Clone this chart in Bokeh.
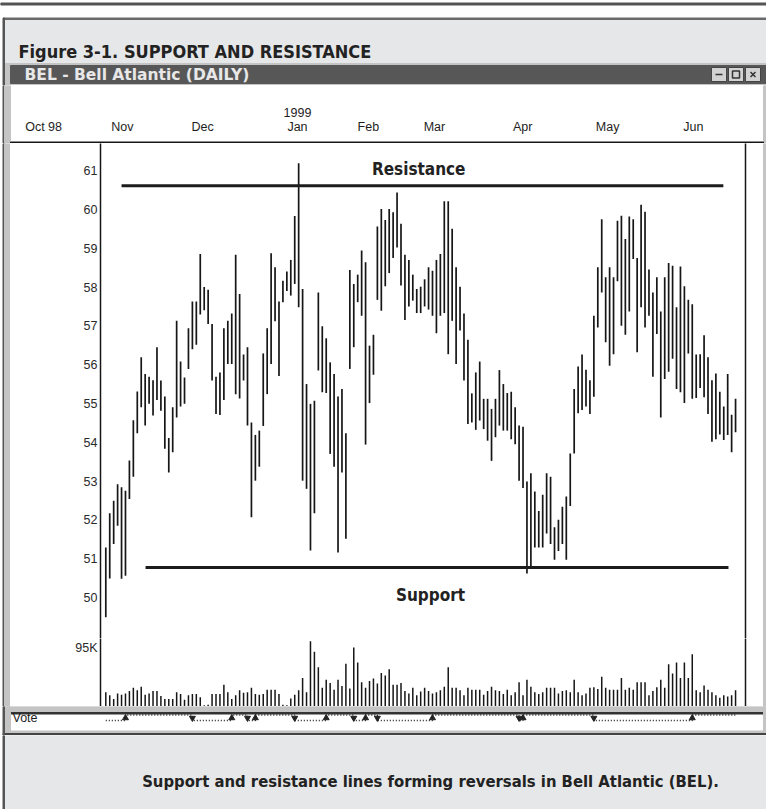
from bokeh.plotting import figure
from bokeh.models import Range1d, FixedTicker, LinearAxis, ColumnDataSource
from bokeh.layouts import column, row
from bokeh.embed import file_html
from bokeh.resources import INLINE
from bokeh.core.properties import value

# ---------------- data ----------------
day = list(range(161))  # trading-day index, first bar = late Oct 1998

high = [51.29, 52.17, 52.49, 52.92, 52.84, 52.75, 53.53, 54.57, 55.31, 56.19,
        55.76, 55.69, 55.60, 56.45, 55.59, 55.18, 54.11, 54.90, 57.13, 56.08,
        55.67, 56.94, 57.63, 57.63, 58.85, 58.00, 57.93, 57.05, 55.69, 55.80,
        56.94, 57.13, 57.32, 58.83, 57.82, 56.26, 56.45, 54.51, 54.19, 54.30,
        56.29, 56.94, 58.87, 58.51, 57.63, 58.16, 58.40, 58.70, 59.83, 61.19,
        57.95, 55.50, 54.99, 55.07, 57.86, 56.99, 56.68, 56.06, 55.76, 55.18,
        55.37, 54.23, 58.44, 58.08, 58.32, 58.94, 58.64, 56.49, 56.77, 59.56,
        60.01, 59.73, 60.01, 59.93, 60.44, 59.63, 58.83, 58.70, 58.32, 57.95,
        58.01, 58.20, 58.51, 58.42, 58.70, 58.85, 60.21, 60.21, 59.50, 58.51,
        58.01, 57.32, 56.64, 55.26, 55.80, 56.08, 55.12, 55.12, 54.86, 55.12,
        55.86, 55.50, 55.27, 55.30, 54.90, 54.43, 54.40, 52.99, 53.20, 52.73,
        52.23, 52.65, 53.20, 53.11, 51.81, 52.00, 52.34, 52.60, 53.71, 55.37,
        55.95, 56.26, 55.87, 55.60, 57.26, 58.51, 59.75, 58.25, 58.51, 58.25,
        59.71, 59.84, 59.24, 59.82, 59.75, 58.75, 60.12, 59.94, 58.45, 57.86,
        58.25, 57.37, 58.25, 58.62, 58.55, 57.48, 58.53, 58.02, 57.67, 57.56,
        56.26, 56.27, 56.76, 56.19, 55.60, 55.77, 55.30, 54.92, 55.76, 54.71,
        55.12]

low = [49.49, 50.49, 51.38, 51.85, 50.48, 50.56, 52.54, 53.11, 54.23, 54.90,
       54.43, 54.99, 54.69, 55.09, 54.81, 53.83, 53.22, 53.74, 54.64, 54.92,
       54.99, 55.89, 56.40, 56.51, 57.29, 57.40, 57.05, 55.59, 54.73, 54.70,
       55.09, 56.02, 56.02, 55.24, 55.13, 55.59, 54.43, 52.07, 53.01, 53.37,
       54.42, 55.24, 56.02, 57.12, 55.71, 57.61, 57.90, 57.78, 58.08, 57.48,
       53.01, 52.80, 51.21, 52.17, 55.85, 55.29, 55.27, 53.70, 53.37, 51.16,
       53.22, 51.51, 55.89, 56.45, 57.61, 57.26, 53.94, 55.01, 55.74, 57.67,
       57.39, 58.02, 58.36, 58.75, 59.02, 58.04, 57.15, 57.50, 57.65, 57.33,
       57.33, 57.50, 57.42, 57.26, 56.81, 57.26, 57.33, 56.27, 57.13, 56.02,
       56.88, 55.59, 54.47, 54.51, 54.32, 54.56, 54.34, 54.04, 53.52, 54.13,
       54.43, 54.30, 54.30, 54.08, 53.95, 53.01, 52.82, 50.62, 50.78, 51.29,
       51.29, 51.29, 51.65, 51.38, 50.97, 51.20, 51.38, 50.97, 52.36, 53.71,
       54.75, 54.83, 54.92, 54.73, 55.17, 56.96, 57.86, 56.58, 55.97, 56.27,
       58.15, 57.00, 56.77, 57.37, 58.72, 56.32, 57.48, 56.96, 57.26, 55.69,
       56.79, 54.64, 55.63, 55.82, 56.15, 55.37, 55.29, 55.01, 56.29, 55.12,
       55.14, 55.40, 55.16, 54.73, 54.01, 54.08, 54.20, 54.06, 54.19, 53.74,
       54.26]

volume_k = [23, 18, 12, 21, 19, 21, 25, 30, 26, 32,
            19, 21, 25, 25, 17, 12, 12, 12, 23, 20,
            11, 18, 20, 20, 15, 2, 3, 20, 20, 20,
            35, 23, 12, 18, 26, 22, 23, 30, 20, 19,
            20, 27, 27, 27, 20, 3, 2, 13, 19, 26,
            46, 23, 105, 88, 63, 30, 43, 38, 27, 43,
            33, 69, 29, 95, 71, 39, 30, 41, 45, 37,
            54, 50, 60, 35, 35, 38, 25, 21, 30, 18,
            24, 30, 25, 21, 23, 26, 32, 63, 30, 30,
            26, 18, 30, 27, 27, 27, 19, 25, 32, 26,
            25, 20, 27, 18, 23, 39, 18, 43, 32, 23,
            20, 23, 30, 30, 30, 21, 25, 26, 23, 43,
            23, 18, 21, 30, 31, 28, 48, 30, 27, 27,
            27, 46, 27, 30, 27, 39, 39, 39, 18, 25,
            31, 43, 30, 68, 53, 71, 46, 71, 46, 84,
            26, 23, 34, 27, 23, 18, 14, 18, 16, 18,
            26]

price_ticks = [50, 51, 52, 53, 54, 55, 56, 57, 58, 59, 60, 61]
volume_ticks = [95]

month_labels = ["Oct 98", "Nov", "Dec", "Jan", "Feb", "Mar", "Apr", "May", "Jun"]
month_pos = [-15.8, 4.2, 24.6, 48.7, 66.7, 83.5, 105.9, 127.5, 149.3]
year_label = "1999"
year_pos = 48.7

resistance_level = 60.61
resistance_span = [4.0, 156.9]
support_level = 50.77
support_span = [10.1, 158.2]

vote_change_day = [0, 5, 22, 32, 36, 38, 48, 56, 63, 66, 69, 83, 105, 106, 124, 149, 160]
vote_state = [0, 1, 0, 1, 0, 1, 0, 1, 0, 1, 0, 1, 0, 1, 0, 1, 1]

title_text = "Figure 3-1. SUPPORT AND RESISTANCE"
window_text = "BEL - Bell Atlantic (DAILY)"
caption_text = "Support and resistance lines forming reversals in Bell Atlantic (BEL)."

# ---------------- layout constants (pixels) ----------------
W = 766
PX_PER_DAY = 3.936
FIRST_BAR_X = 105.3
PANEL_X = 10           # left edge of price/volume figures
PANEL_W = 747
FRAME_LEFT = 100
FRAME_RIGHT = 745
PX_PER_POINT = 38.8
PRICE_TOP = 61.70
H_TOP, H_DATES, H_PRICE, H_VOL, H_VOTE, H_CAP = 85, 58, 495, 68, 29, 74
VOL_TOP = 95 * 68 / 59.0

x0 = (FRAME_LEFT - FIRST_BAR_X) / PX_PER_DAY
x1 = (FRAME_RIGHT - FIRST_BAR_X) / PX_PER_DAY
XL = -FIRST_BAR_X / PX_PER_DAY
XR = (W - FIRST_BAR_X) / PX_PER_DAY
PX = 1.0 / PX_PER_DAY


def ix(px):
    return XL + px * PX


SANS = value("Liberation Sans")
COND = value("DejaVu Sans Condensed")
BAND = "#e6e7e8"
STIP = "#c4c4c4"
EDGE = "#555555"
INK = "#161616"


def deco(w, h, xr, yr, bg="white"):
    f = figure(width=w, height=h, x_range=xr, y_range=yr, output_backend="svg",
               toolbar_location=None, min_border=0, background_fill_color=bg,
               border_fill_color=bg, outline_line_color=None,
               x_axis_location=None, y_axis_location=None)
    f.grid.grid_line_color = None
    return f


# ---- top: title band + window title bar ----
top = deco(W, H_TOP, Range1d(0, W), Range1d(H_TOP, 0))
top.quad(left=0, right=W, top=2.5, bottom=4.5, color=EDGE)
top.quad(left=3, right=W, top=18, bottom=63, color=BAND)
top.quad(left=3, right=W, top=17.5, bottom=19, color="#6a6a6a")
top.text(x=[18], y=[51], text=[title_text], text_font=COND, text_font_style="bold",
         text_font_size="18px", text_color="#222222", text_baseline="alphabetic")
top.quad(left=3, right=W, top=63, bottom=85, color=STIP)
top.quad(left=2.5, right=4, top=17.5, bottom=85, color=EDGE)
top.quad(left=10, right=W, top=65, bottom=83, color="#575757")
top.text(x=[24], y=[74.5], text=[window_text], text_font=value("DejaVu Sans"),
         text_font_style="bold", text_font_size="15.5px", text_color="#e8e8e8",
         text_baseline="middle")
top.quad(left=[711, 728, 745], right=[726, 743, 760], top=67, bottom=81,
         fill_color="#d2d2d2", line_color="#444444", line_width=1)
top.scatter(x=[718.5, 735.5, 752.5], y=[74, 74, 74], marker=["dash", "square", "x"],
            size=7, line_color="#333333", fill_color=None, line_width=1.5)

# ---- month header ----
dates = deco(W, H_DATES, Range1d(XL, XR), Range1d(H_DATES, 0))
dates.quad(left=ix(2.5), right=ix(4), top=0, bottom=H_DATES, color=EDGE)
dates.quad(left=ix(4), right=ix(10), top=0, bottom=H_DATES, color=STIP)
dates.quad(left=ix(763), right=XR, top=0, bottom=H_DATES, color=STIP)
dates.quad(left=ix(10), right=ix(763), top=56.5, bottom=58, color=INK)
dates.text(x=month_pos, y=[41] * len(month_pos), text=month_labels, text_font=SANS,
           text_font_size="12.5px", text_color="#1e1e1e", text_align="center",
           text_baseline="middle")
dates.text(x=[year_pos], y=[27], text=[year_label], text_font=SANS,
           text_font_size="12.5px", text_color="#1e1e1e", text_align="center",
           text_baseline="middle")


def panel(h, xr, yr):
    f = figure(width=PANEL_W, height=h, x_range=xr, y_range=yr, output_backend="svg",
               toolbar_location=None, min_border=0, min_border_left=FRAME_LEFT - PANEL_X,
               min_border_right=PANEL_X + PANEL_W - FRAME_RIGHT, x_axis_location=None,
               y_axis_location="left", outline_line_color=None,
               background_fill_color="white", border_fill_color="white")
    f.grid.grid_line_color = None
    ax = f.yaxis[0]
    ax.major_tick_in = 0
    ax.major_tick_out = 0
    ax.minor_tick_in = 0
    ax.minor_tick_out = 0
    ax.axis_line_color = INK
    ax.axis_line_width = 1.5
    ax.major_label_text_font = "Liberation Sans"
    ax.major_label_text_font_size = "12.5px"
    ax.major_label_text_color = "#2a2a2a"
    ax.major_label_standoff = 3
    ra = LinearAxis(ticker=FixedTicker(ticks=[]), axis_line_color=INK, axis_line_width=1.5,
                    major_tick_in=0, major_tick_out=0, minor_tick_in=0, minor_tick_out=0,
                    major_label_text_font_size="0px")
    f.add_layout(ra, "right")
    return f


src = ColumnDataSource(dict(day=day, high=high, low=low, vol=volume_k))

# ---- price panel ----
p = panel(H_PRICE, Range1d(x0, x1), Range1d(PRICE_TOP - H_PRICE / PX_PER_POINT, PRICE_TOP))
p.yaxis[0].ticker = FixedTicker(ticks=price_ticks)
p.segment(x0="day", y0="low", x1="day", y1="high", source=src,
          line_color=INK, line_width=1.7)
p.segment(x0=[resistance_span[0], support_span[0]], x1=[resistance_span[1], support_span[1]],
          y0=[resistance_level, support_level], y1=[resistance_level, support_level],
          line_color="#1c1c1c", line_width=3)
p.text(x=[79.5, 82.5], y=[61.05, 50.07], text=["Resistance", "Support"], text_font=COND,
       text_font_style="bold", text_font_size="17px", text_color="#222222",
       text_align="center", text_baseline="middle")

# ---- volume panel ----
v = panel(H_VOL, p.x_range, Range1d(0, VOL_TOP))
v.yaxis[0].ticker = FixedTicker(ticks=volume_ticks)
v.yaxis[0].major_label_overrides = {95: "95K"}
v.segment(x0="day", y0=0, x1="day", y1="vol", source=src, line_color=INK, line_width=1.5)

# ---- window side strips next to price/volume ----
H_MID = H_PRICE + H_VOL
ls = deco(PANEL_X, H_MID, Range1d(0, PANEL_X), Range1d(H_MID, 0))
ls.quad(left=2.5, right=4, top=0, bottom=H_MID, color=EDGE)
ls.quad(left=4, right=PANEL_X, top=0, bottom=H_MID, color=STIP)
RS_W = W - PANEL_X - PANEL_W
rs = deco(RS_W, H_MID, Range1d(0, RS_W), Range1d(H_MID, 0))
rs.quad(left=6, right=RS_W, top=0, bottom=H_MID, color=STIP)

# ---- vote row ----
vt = deco(W, H_VOTE, Range1d(XL, XR), Range1d(H_VOTE, 0))
vt.quad(left=ix(3), right=XR, top=0, bottom=6, color=STIP)
vt.quad(left=ix(10), right=ix(763), top=6, bottom=7.5, color="#333333")
vt.quad(left=ix(3), right=ix(10), top=0, bottom=27, color=STIP)
vt.quad(left=ix(763), right=XR, top=0, bottom=27, color=STIP)
vt.quad(left=ix(3), right=XR, top=24.5, bottom=27, color=STIP)
vt.quad(left=ix(2.5), right=XR, top=27, bottom=29, color="#444444")
vt.quad(left=ix(2.5), right=ix(4), top=0, bottom=29, color=EDGE)
vt.text(x=[ix(12)], y=[11.5], text=["Vote"], text_font=SANS, text_font_size="12.5px",
        text_color="#1e1e1e", text_baseline="middle")
levels = [8.5 if s == 1 else 14 for s in vote_state]
vt.step(x=vote_change_day, y=levels, mode="after", line_dash="1 2",
        line_color="#222222", line_width=1.3)
buys = [d for d, s, prev in zip(vote_change_day[1:-1], vote_state[1:-1], vote_state[:-2]) if s == 1 and prev == 0]
sells = [d for d, s, prev in zip(vote_change_day[1:-1], vote_state[1:-1], vote_state[:-2]) if s == 0 and prev == 1]
vt.scatter(x=buys, y=[11.5] * len(buys), marker="triangle", size=6, color="#222222")
vt.scatter(x=sells, y=[11.5] * len(sells), marker="inverted_triangle", size=6, color="#222222")

# ---- caption ----
cap = deco(W, H_CAP, Range1d(0, W), Range1d(H_CAP, 0))
cap.quad(left=3, right=W, top=0, bottom=H_CAP, color=BAND)
cap.quad(left=2.5, right=4, top=0, bottom=H_CAP, color=EDGE)
cap.text(x=[430], y=[46], text=[caption_text], text_font=COND, text_font_style="bold",
         text_font_size="16.5px", text_color="#222222", text_align="center",
         text_baseline="middle")

layout = column(column(top), column(dates), row(ls, column(p, v), rs),
                column(vt), column(cap), spacing=0)
open("out.html", "w").write(file_html(layout, INLINE))
